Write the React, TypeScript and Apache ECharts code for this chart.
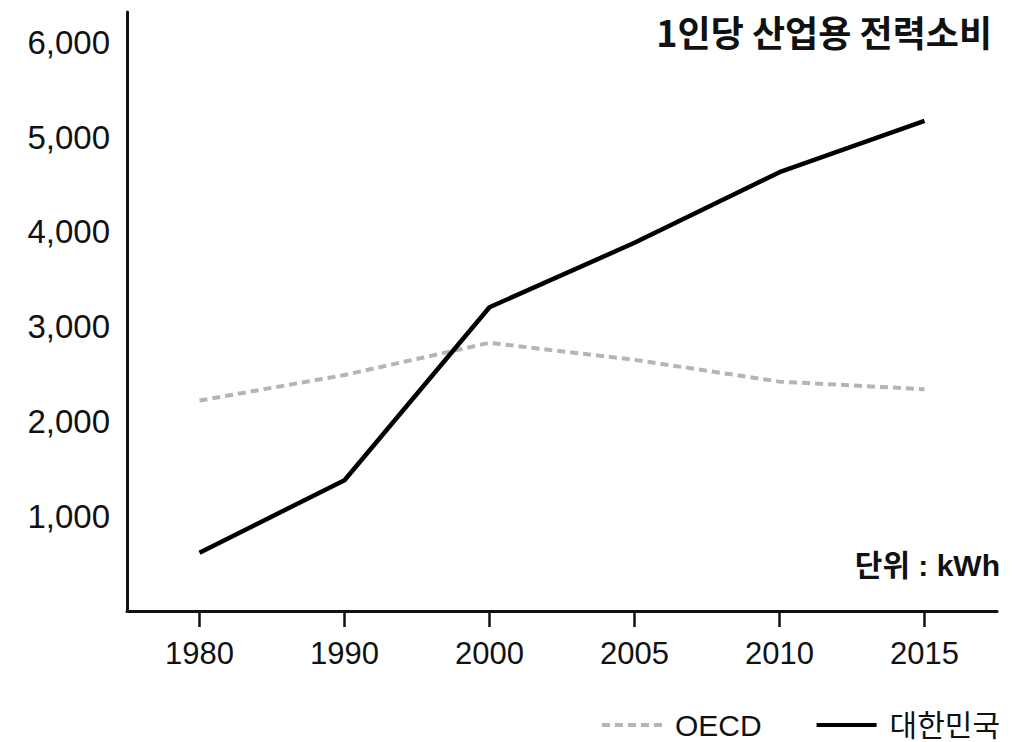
import React, { useEffect, useRef } from "react";
import * as echarts from "echarts";

// Years on the horizontal axis
const years = ["1980", "1990", "2000", "2005", "2010", "2015"];
// Per-capita industrial electricity use (kWh)
const oecdValues = [2220, 2490, 2830, 2650, 2420, 2340];
const koreaValues = [615, 1380, 3205, 3885, 4630, 5170];
const seriesNames = ["OECD", "대한민국"];
const titleText = "1인당 산업용 전력소비";
const unitText = "단위 : kWh";

const LATIN = "'Liberation Sans', Arial, Helvetica, sans-serif";
const KOREAN = "'Noto Sans CJK KR', 'Noto Sans', sans-serif";
const MIXED = "'Liberation Sans', 'Noto Sans CJK KR', sans-serif";

const formatThousands = (v: number) =>
  v === 0 ? "" : String(v).replace(/\B(?=(\d{3})+(?!\d))/g, ",");

export default function App() {
  const ref = useRef<HTMLDivElement>(null);

  useEffect(() => {
    if (!ref.current) return;
    const chart = echarts.init(ref.current, undefined, { renderer: "svg" });
    chart.setOption({
      animation: false,
      backgroundColor: "#ffffff",
      title: {
        text: titleText,
        right: 27,
        top: 8,
        textStyle: {
          fontFamily: KOREAN,
          fontSize: 36,
          fontWeight: "bold",
          color: "#111111",
        },
      },
      legend: {
        right: 24,
        top: 710,
        padding: 0,
        itemWidth: 60,
        itemHeight: 20,
        itemGap: 53,
        data: seriesNames,
        itemStyle: { color: "transparent", borderWidth: 0, opacity: 0 },
        lineStyle: { width: 4 },
        textStyle: {
          fontFamily: MIXED,
          fontSize: 30,
          lineHeight: 30,
          color: "#111111",
          padding: [0, 0, 0, 8],
        },
      },
      grid: {
        left: 127,
        right: 27,
        top: 12,
        bottom: 131,
        containLabel: false,
      },
      xAxis: {
        type: "category",
        data: years,
        boundaryGap: true,
        axisLine: { lineStyle: { color: "#111111", width: 3 } },
        axisTick: {
          show: true,
          alignWithLabel: true,
          length: 16,
          lineStyle: { color: "#111111", width: 2.5 },
        },
        axisLabel: {
          fontFamily: LATIN,
          fontSize: 31,
          color: "#111111",
          margin: 27,
        },
        splitLine: { show: false },
      },
      yAxis: {
        type: "value",
        min: 0,
        max: 6320,
        interval: 1000,
        axisLine: { show: true, lineStyle: { color: "#111111", width: 3 } },
        axisTick: { show: false },
        splitLine: { show: false },
        axisLabel: {
          fontFamily: LATIN,
          fontSize: 33,
          color: "#111111",
          margin: 17,
          showMaxLabel: false,
          formatter: (v: number) => formatThousands(v),
        },
      },
      graphic: [
        {
          type: "text",
          right: 24,
          top: 550,
          style: {
            text: unitText,
            fontFamily: MIXED,
            fontSize: 30,
            fontWeight: "bold",
            fill: "#111111",
          },
        },
      ],
      series: [
        {
          name: seriesNames[0],
          type: "line",
          data: oecdValues,
          symbol: "none",
          lineStyle: { color: "#b5b5b5", width: 4, type: [8, 5] },
          itemStyle: { color: "#b5b5b5" },
        },
        {
          name: seriesNames[1],
          type: "line",
          data: koreaValues,
          symbol: "none",
          lineStyle: { color: "#000000", width: 4.5 },
          itemStyle: { color: "#000000" },
          z: 3,
        },
      ],
    });
    return () => chart.dispose();
  }, []);

  return (
    <div
      ref={ref}
      style={{ position: "fixed", left: 0, top: 0, width: 1024, height: 742 }}
    />
  );
}
